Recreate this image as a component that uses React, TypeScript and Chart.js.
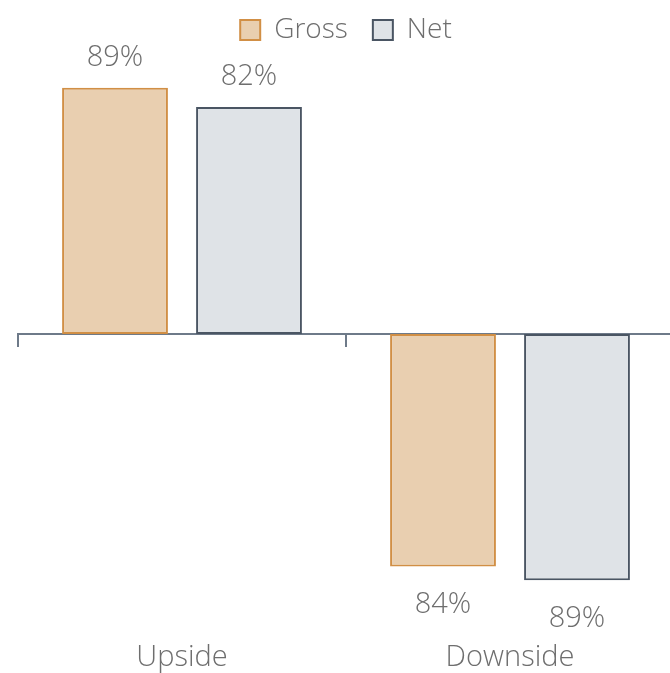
import React, { useEffect, useRef } from "react";
import { Chart, registerables } from "chart.js";

Chart.register(...registerables);

const categories = ["Upside", "Downside"];
const seriesNames = ["Gross", "Net"];
const grossValues = [89, -84];
const netValues = [82, -89];

const FONT = "'Open Sans', 'Segoe UI', sans-serif";
const TEXT = "#6e6e6e";
const AXIS = "#6e7a89";

const dataLabelPlugin = {
  id: "dataLabels",
  afterDatasetsDraw(chart: any) {
    const ctx = chart.ctx;
    ctx.save();
    ctx.font = `300 29px ${FONT}`;
    ctx.fillStyle = TEXT;
    ctx.textAlign = "center";
    ctx.textBaseline = "middle";
    chart.data.datasets.forEach((ds: any, di: number) => {
      const meta = chart.getDatasetMeta(di);
      meta.data.forEach((el: any, i: number) => {
        const v = ds.data[i];
        const y = v >= 0 ? el.y - 30 : el.y + 38;
        ctx.fillText(`${Math.abs(v)}%`, el.x, y);
      });
    });
    ctx.restore();
  },
};

export default function App() {
  const ref = useRef<HTMLCanvasElement>(null);
  useEffect(() => {
    if (!ref.current) return;
    const chart = new Chart(ref.current, {
      type: "bar",
      data: {
        labels: categories,
        datasets: [
          {
            label: seriesNames[0],
            data: grossValues,
            backgroundColor: "#e9cfb0",
            borderColor: "#d18f45",
            borderWidth: 2,
            borderSkipped: false,
            categoryPercentage: 0.817,
            barPercentage: 0.79,
          },
          {
            label: seriesNames[1],
            data: netValues,
            backgroundColor: "#dfe3e7",
            borderColor: "#4a5563",
            borderWidth: 2,
            borderSkipped: false,
            categoryPercentage: 0.817,
            barPercentage: 0.79,
          },
        ],
      },
      options: {
        animation: false,
        responsive: true,
        maintainAspectRatio: false,
        layout: { padding: { left: 18, right: 28, top: -9, bottom: 0 } },
        plugins: {
          legend: {
            position: "top",
            labels: {
              boxWidth: 20,
              boxHeight: 20,
              color: TEXT,
              padding: 25,
              font: { family: FONT, size: 28, weight: 300 as any },
            },
          },
          tooltip: { enabled: false },
        },
        scales: {
          y: { display: false, min: -103.8, max: 101.2 },
          x: {
            position: { y: 0 } as any,
            offset: true,
            z: 1,
            grid: {
              offset: true,
              drawOnChartArea: false,
              drawTicks: true,
              tickLength: 12,
              color: AXIS,
              lineWidth: 2,
            },
            border: { display: true, color: AXIS, width: 2 },
            ticks: { display: false },
          },
          x2: {
            type: "category",
            position: "bottom",
            offset: true,
            grid: { display: false, drawTicks: false },
            border: { display: false },
            ticks: {
              color: TEXT,
              padding: 19,
              font: { family: FONT, size: 29, weight: 300 as any },
            },
          },
        },
      },
      plugins: [dataLabelPlugin],
    });
    return () => chart.destroy();
  }, []);
  return (
    <div style={{ position: "fixed", left: 0, top: 0, width: 670, height: 673, overflow: "hidden" }}>
      <div style={{ position: "absolute", left: 0, top: 0, width: 702, height: 694 }}>
        <canvas ref={ref} />
      </div>
    </div>
  );
}
